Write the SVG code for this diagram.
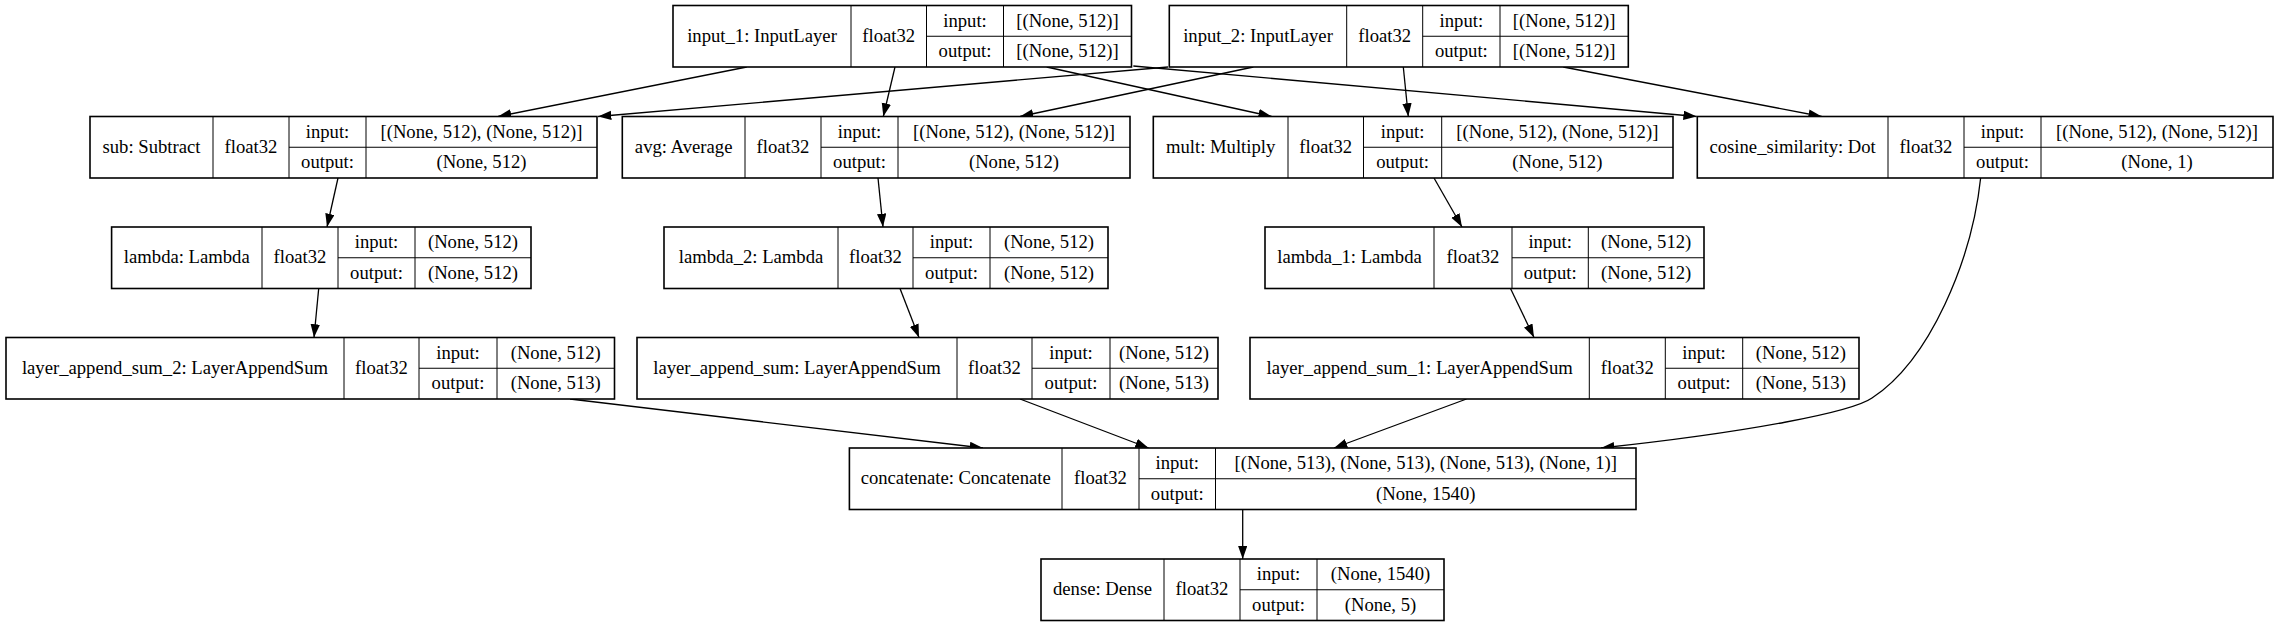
<svg xmlns="http://www.w3.org/2000/svg" width="2279" height="627" viewBox="0 0 2279 627">
<style>
.box{fill:#fff;stroke:#000;stroke-width:1.6}
.ln{fill:none;stroke:#000;stroke-width:1}
.e{fill:none;stroke:#000;stroke-width:1.3;marker-end:url(#ah)}
text{font-family:"Liberation Serif","Times New Roman",serif;font-size:18.67px;text-anchor:middle;fill:#000}
</style>
<defs>
<marker id="ah" markerUnits="userSpaceOnUse" markerWidth="14" markerHeight="10" refX="13.3" refY="4.7" orient="auto" viewBox="0 0 14 10">
<path d="M0,0 L13.3,4.7 L0,9.4 Z" fill="#000"/>
</marker>
</defs>
<rect width="2279" height="627" fill="#fff"/>

<g id="connectors">
<path class="e" d="M746.7,67 L498,116.5"/>
<path class="e" d="M1168,67 L598,116.5"/>
<path class="e" d="M895,67 L883.3,116.5"/>
<path class="e" d="M1253.3,67 L1020,116.5"/>
<path class="e" d="M1046.7,67 L1271.7,116.5"/>
<path class="e" d="M1403.3,67 L1408.3,116.5"/>
<path class="e" d="M1133.3,66 L1696.7,116.5"/>
<path class="e" d="M1563.3,67 L1821.7,116.5"/>
<path class="e" d="M338,178 L327,227"/>
<path class="e" d="M878,178 L883,227"/>
<path class="e" d="M1434,178 L1462,227"/>
<path class="e" d="M318.7,288.5 L314,337.5"/>
<path class="e" d="M900,288.5 L919,337.5"/>
<path class="e" d="M1510.5,288.5 L1534,337.5"/>
<path class="e" d="M570,399 L983,448"/>
<path class="e" d="M1020,399 L1148.6,448"/>
<path class="e" d="M1466.5,399 L1334,448"/>
<path class="e" d="M1980.7,177.5 C1972,260 1930,360 1872,398 C1852,412 1750,432 1601,448"/>
<path class="e" d="M1242.7,509.5 L1242.7,559"/>
</g>

<g id="input_1">
<rect class="box" x="673" y="5.5" width="458.5" height="61.5"/>
<path class="ln" d="M851,5.5V67 M926.5,5.5V67 M1003.5,5.5V67 M926.5,36.25H1131.5"/>
<text x="762" y="41.8">input_1: InputLayer</text>
<text x="888.75" y="41.8">float32</text>
<text x="965" y="26.5">input:</text>
<text x="1067.5" y="26.5">[(None, 512)]</text>
<text x="965" y="57.1">output:</text>
<text x="1067.5" y="57.1">[(None, 512)]</text>
</g>

<g id="input_2">
<rect class="box" x="1169.3" y="5.5" width="459" height="61.5"/>
<path class="ln" d="M1346.7,5.5V67 M1422.7,5.5V67 M1500,5.5V67 M1422.7,36.25H1628.3"/>
<text x="1258" y="41.8">input_2: InputLayer</text>
<text x="1384.7" y="41.8">float32</text>
<text x="1461.35" y="26.5">input:</text>
<text x="1564.15" y="26.5">[(None, 512)]</text>
<text x="1461.35" y="57.1">output:</text>
<text x="1564.15" y="57.1">[(None, 512)]</text>
</g>

<g id="sub">
<rect class="box" x="90" y="116.5" width="507" height="61.5"/>
<path class="ln" d="M213,116.5V178 M289,116.5V178 M366,116.5V178 M289,147.25H597"/>
<text x="151.5" y="152.8">sub: Subtract</text>
<text x="251" y="152.8">float32</text>
<text x="327.5" y="137.5">input:</text>
<text x="481.5" y="137.5">[(None, 512), (None, 512)]</text>
<text x="327.5" y="168.1">output:</text>
<text x="481.5" y="168.1">(None, 512)</text>
</g>

<g id="avg">
<rect class="box" x="622.3" y="116.5" width="507.7" height="61.5"/>
<path class="ln" d="M745,116.5V178 M821,116.5V178 M898,116.5V178 M821,147.25H1130"/>
<text x="683.65" y="152.8">avg: Average</text>
<text x="783" y="152.8">float32</text>
<text x="859.5" y="137.5">input:</text>
<text x="1014" y="137.5">[(None, 512), (None, 512)]</text>
<text x="859.5" y="168.1">output:</text>
<text x="1014" y="168.1">(None, 512)</text>
</g>

<g id="mult">
<rect class="box" x="1153.3" y="116.5" width="519.7" height="61.5"/>
<path class="ln" d="M1288,116.5V178 M1363.5,116.5V178 M1441.7,116.5V178 M1363.5,147.25H1673"/>
<text x="1220.65" y="152.8">mult: Multiply</text>
<text x="1325.75" y="152.8">float32</text>
<text x="1402.6" y="137.5">input:</text>
<text x="1557.35" y="137.5">[(None, 512), (None, 512)]</text>
<text x="1402.6" y="168.1">output:</text>
<text x="1557.35" y="168.1">(None, 512)</text>
</g>

<g id="cosine_similarity">
<rect class="box" x="1697.3" y="116.5" width="575.7" height="61.5"/>
<path class="ln" d="M1888,116.5V178 M1964,116.5V178 M2041,116.5V178 M1964,147.25H2273"/>
<text x="1792.65" y="152.8">cosine_similarity: Dot</text>
<text x="1926" y="152.8">float32</text>
<text x="2002.5" y="137.5">input:</text>
<text x="2157" y="137.5">[(None, 512), (None, 512)]</text>
<text x="2002.5" y="168.1">output:</text>
<text x="2157" y="168.1">(None, 1)</text>
</g>

<g id="lambda">
<rect class="box" x="111.6" y="227" width="419.4" height="61.5"/>
<path class="ln" d="M262,227V288.5 M338,227V288.5 M415,227V288.5 M338,257.75H531"/>
<text x="186.8" y="263.3">lambda: Lambda</text>
<text x="300" y="263.3">float32</text>
<text x="376.5" y="248">input:</text>
<text x="473" y="248">(None, 512)</text>
<text x="376.5" y="278.6">output:</text>
<text x="473" y="278.6">(None, 512)</text>
</g>

<g id="lambda_2">
<rect class="box" x="664" y="227" width="444" height="61.5"/>
<path class="ln" d="M838,227V288.5 M913,227V288.5 M990,227V288.5 M913,257.75H1108"/>
<text x="751" y="263.3">lambda_2: Lambda</text>
<text x="875.5" y="263.3">float32</text>
<text x="951.5" y="248">input:</text>
<text x="1049" y="248">(None, 512)</text>
<text x="951.5" y="278.6">output:</text>
<text x="1049" y="278.6">(None, 512)</text>
</g>

<g id="lambda_1">
<rect class="box" x="1265" y="227" width="439" height="61.5"/>
<path class="ln" d="M1434,227V288.5 M1512,227V288.5 M1588.3,227V288.5 M1512,257.75H1704"/>
<text x="1349.5" y="263.3">lambda_1: Lambda</text>
<text x="1473" y="263.3">float32</text>
<text x="1550.2" y="248">input:</text>
<text x="1646.2" y="248">(None, 512)</text>
<text x="1550.2" y="278.6">output:</text>
<text x="1646.2" y="278.6">(None, 512)</text>
</g>

<g id="layer_append_sum_2">
<rect class="box" x="6" y="337.5" width="608.5" height="61.5"/>
<path class="ln" d="M344,337.5V399 M419,337.5V399 M497,337.5V399 M419,368.25H614.5"/>
<text x="175" y="373.8">layer_append_sum_2: LayerAppendSum</text>
<text x="381.5" y="373.8">float32</text>
<text x="458" y="358.5">input:</text>
<text x="555.75" y="358.5">(None, 512)</text>
<text x="458" y="389.1">output:</text>
<text x="555.75" y="389.1">(None, 513)</text>
</g>

<g id="layer_append_sum">
<rect class="box" x="637" y="337.5" width="581" height="61.5"/>
<path class="ln" d="M957,337.5V399 M1032,337.5V399 M1110,337.5V399 M1032,368.25H1218"/>
<text x="797" y="373.8">layer_append_sum: LayerAppendSum</text>
<text x="994.5" y="373.8">float32</text>
<text x="1071" y="358.5">input:</text>
<text x="1164" y="358.5">(None, 512)</text>
<text x="1071" y="389.1">output:</text>
<text x="1164" y="389.1">(None, 513)</text>
</g>

<g id="layer_append_sum_1">
<rect class="box" x="1250" y="337.5" width="609" height="61.5"/>
<path class="ln" d="M1589.3,337.5V399 M1665.3,337.5V399 M1742.7,337.5V399 M1665.3,368.25H1859"/>
<text x="1419.65" y="373.8">layer_append_sum_1: LayerAppendSum</text>
<text x="1627.3" y="373.8">float32</text>
<text x="1704" y="358.5">input:</text>
<text x="1800.85" y="358.5">(None, 512)</text>
<text x="1704" y="389.1">output:</text>
<text x="1800.85" y="389.1">(None, 513)</text>
</g>

<g id="concatenate">
<rect class="box" x="849.4" y="448" width="786.6" height="61.5"/>
<path class="ln" d="M1062,448V509.5 M1139,448V509.5 M1215.5,448V509.5 M1139,478.75H1636"/>
<text x="955.7" y="484.3">concatenate: Concatenate</text>
<text x="1100.5" y="484.3">float32</text>
<text x="1177.25" y="469">input:</text>
<text x="1425.75" y="469">[(None, 513), (None, 513), (None, 513), (None, 1)]</text>
<text x="1177.25" y="499.6">output:</text>
<text x="1425.75" y="499.6">(None, 1540)</text>
</g>

<g id="dense">
<rect class="box" x="1041" y="559" width="403" height="61.5"/>
<path class="ln" d="M1164,559V620.5 M1240,559V620.5 M1317,559V620.5 M1240,589.75H1444"/>
<text x="1102.5" y="595.3">dense: Dense</text>
<text x="1202" y="595.3">float32</text>
<text x="1278.5" y="580">input:</text>
<text x="1380.5" y="580">(None, 1540)</text>
<text x="1278.5" y="610.6">output:</text>
<text x="1380.5" y="610.6">(None, 5)</text>
</g>
</svg>
